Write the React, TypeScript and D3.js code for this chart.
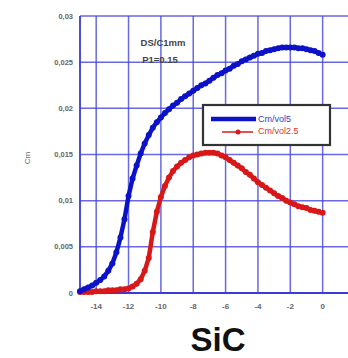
import React, { useEffect, useRef } from 'react';
import * as d3 from 'd3';

// positions along x (step 0.25)
const xVals = [
  -15, -14.75, -14.5, -14.25, -14, -13.75, -13.5, -13.25, -13, -12.75, -12.5, -12.25,
  -12, -11.75, -11.5, -11.25, -11, -10.75, -10.5, -10.25, -10, -9.75, -9.5, -9.25,
  -9, -8.75, -8.5, -8.25, -8, -7.75, -7.5, -7.25, -7, -6.75, -6.5, -6.25,
  -6, -5.75, -5.5, -5.25, -5, -4.75, -4.5, -4.25, -4, -3.75, -3.5, -3.25,
  -3, -2.75, -2.5, -2.25, -2, -1.75, -1.5, -1.25, -1, -0.75, -0.5, -0.25, 0,
];

const blueVals = [
  0.0002, 0.0004, 0.0006, 0.0008, 0.0011, 0.0014, 0.0018, 0.0024, 0.0032, 0.0044, 0.006, 0.008,
  0.0105, 0.0124, 0.0138, 0.0151, 0.0162, 0.0171, 0.0179, 0.0185, 0.019, 0.0195, 0.0199, 0.0203,
  0.0206, 0.021, 0.0213, 0.0216, 0.0219, 0.0222, 0.0225, 0.0227, 0.023, 0.0233, 0.0236, 0.0238,
  0.0241, 0.0243, 0.0246, 0.0248, 0.0251, 0.0253, 0.0255, 0.0257, 0.0259, 0.026, 0.0262, 0.0263,
  0.0264, 0.0265, 0.0266, 0.0266, 0.0266, 0.0266, 0.0265, 0.0265, 0.0264, 0.0263, 0.0262, 0.026, 0.0258,
];

const redVals = [
  0.0001, 0.0001, 0.0001, 0.0001, 0.0002, 0.0002, 0.0002, 0.0003, 0.0003, 0.0003, 0.0004, 0.0004,
  0.0005, 0.0007, 0.001, 0.0015, 0.0024, 0.0038, 0.0066, 0.0088, 0.0104, 0.0116, 0.0125, 0.0132,
  0.0137, 0.0141, 0.0144, 0.0147, 0.0149, 0.015, 0.0151, 0.0152, 0.0152, 0.0152, 0.0151, 0.0149,
  0.0147, 0.0144, 0.0141, 0.0138, 0.0135, 0.0131, 0.0128, 0.0124, 0.012, 0.0117, 0.0114, 0.0111,
  0.0108, 0.0105, 0.0103, 0.01, 0.0098, 0.0096, 0.0094, 0.0093, 0.0092, 0.009, 0.0089, 0.0088, 0.0087,
];

const xTicks = [-14, -12, -10, -8, -6, -4, -2, 0];
const yTicks = [0, 0.005, 0.01, 0.015, 0.02, 0.025, 0.03];
const yTickLabels = ['0', '0,005', '0,01', '0,015', '0,02', '0,025', '0,03'];
const legendLabels = ['Cm/vol5', 'Cm/vol2.5'];

const W = 348;
const H = 358;

const App: React.FC = () => {
  const ref = useRef<SVGSVGElement>(null);

  useEffect(() => {
    if (!ref.current) return;
    const svg = d3.select(ref.current);
    svg.selectAll('*').remove();

    const x = d3.scaleLinear().domain([-15, 2]).range([80, 355]);
    const y = d3.scaleLinear().domain([0, 0.03]).range([293, 16]);
    const gridColor = '#4444dd';

    // grille
    const grid = svg.append('g');
    grid.selectAll('.vg')
      .data(xTicks)
      .enter()
      .append('line')
      .attr('x1', d => x(d)).attr('x2', d => x(d))
      .attr('y1', y(0)).attr('y2', y(0.03))
      .attr('stroke', gridColor).attr('stroke-width', 1.5).attr('opacity', 0.8);
    grid.selectAll('.hg')
      .data(yTicks)
      .enter()
      .append('line')
      .attr('x1', x(-15)).attr('x2', W)
      .attr('y1', d => y(d)).attr('y2', d => y(d))
      .attr('stroke', gridColor).attr('stroke-width', 1.5).attr('opacity', 0.8);

    // axes
    svg.append('line')
      .attr('x1', x(-15)).attr('x2', x(-15))
      .attr('y1', y(0)).attr('y2', y(0.03))
      .attr('stroke', '#3a3ad8').attr('stroke-width', 1.8);
    svg.append('line')
      .attr('x1', x(-15)).attr('x2', W)
      .attr('y1', y(0)).attr('y2', y(0))
      .attr('stroke', '#3a3ad8').attr('stroke-width', 1.8);

    // labels des ticks
    svg.selectAll('.yl')
      .data(yTicks)
      .enter()
      .append('text')
      .attr('x', 73)
      .attr('y', d => y(d) + 2.5)
      .attr('text-anchor', 'end')
      .attr('fill', '#666')
      .style('font-family', 'Arial, Liberation Sans, sans-serif')
      .style('font-size', '7.5px')
      .style('font-weight', 'bold')
      .text((_, i) => yTickLabels[i]);

    svg.selectAll('.xl')
      .data(xTicks)
      .enter()
      .append('text')
      .attr('x', d => x(d))
      .attr('y', 309)
      .attr('text-anchor', 'middle')
      .attr('fill', '#666')
      .style('font-family', 'Arial, Liberation Sans, sans-serif')
      .style('font-size', '8px')
      .style('font-weight', 'bold')
      .text(d => String(d));

    svg.append('text')
      .attr('transform', 'translate(30,158) rotate(-90)')
      .attr('text-anchor', 'middle')
      .attr('fill', '#666')
      .style('font-family', 'Arial, Liberation Sans, sans-serif')
      .style('font-size', '8px')
      .text('Cm');

    // courbes
    const series = [
      { vals: redVals, color: '#d81818' },
      { vals: blueVals, color: '#0c12c8' },
    ];
    const line = d3.line<[number, number]>()
      .x(d => x(d[0]))
      .y(d => y(d[1]));

    series.forEach(s => {
      const pts: [number, number][] = xVals.map((v, i) => [v, s.vals[i]]);
      svg.append('path')
        .datum(pts)
        .attr('d', line)
        .attr('fill', 'none')
        .attr('stroke', s.color)
        .attr('stroke-width', 4.5)
        .attr('stroke-linejoin', 'round');
      svg.append('g')
        .selectAll('circle')
        .data(pts)
        .enter()
        .append('circle')
        .attr('cx', d => x(d[0]))
        .attr('cy', d => y(d[1]))
        .attr('r', 3)
        .attr('fill', s.color);
    });

    // annotation
    const ann = svg.append('g')
      .attr('fill', '#444')
      .style('font-family', 'Arial, Liberation Sans, sans-serif')
      .style('font-size', '9.5px')
      .style('font-weight', 'bold')
      .attr('text-anchor', 'middle');
    ann.append('text').attr('x', 163).attr('y', 46).text('DS/C1mm');
    ann.append('text').attr('x', 160).attr('y', 63).text('P1=0.15');

    // légende
    const lg = svg.append('g');
    lg.append('rect')
      .attr('x', 203).attr('y', 105)
      .attr('width', 127).attr('height', 40)
      .attr('fill', '#fff')
      .attr('stroke', '#333')
      .attr('stroke-width', 2.2);
    lg.append('line')
      .attr('x1', 211).attr('x2', 256).attr('y1', 119).attr('y2', 119)
      .attr('stroke', '#0c12c8').attr('stroke-width', 4.5);
    lg.append('line')
      .attr('x1', 222).attr('x2', 253).attr('y1', 132).attr('y2', 132)
      .attr('stroke', '#d81818').attr('stroke-width', 1.5);
    lg.append('circle')
      .attr('cx', 238).attr('cy', 132).attr('r', 2.5)
      .attr('fill', '#d81818');
    lg.selectAll('.lt')
      .data(legendLabels)
      .enter()
      .append('text')
      .attr('x', 258)
      .attr('y', (_, i) => 122 + i * 12)
      .attr('fill', (_, i) => (i === 0 ? '#3040d0' : '#e03030'))
      .style('font-family', 'Arial, Liberation Sans, sans-serif')
      .style('font-size', '9px')
      .text(d => d);

    // titre bas
    svg.append('text')
      .attr('x', 218)
      .attr('y', 351)
      .attr('text-anchor', 'middle')
      .attr('fill', '#111')
      .style('font-family', 'Arial, Liberation Sans, sans-serif')
      .style('font-size', '33px')
      .style('font-weight', 'bold')
      .text('SiC');
  }, []);

  return (
    <svg
      ref={ref}
      width={W}
      height={H}
      style={{ position: 'absolute', left: 0, top: 0, background: '#fff' }}
    />
  );
};

export default App;
